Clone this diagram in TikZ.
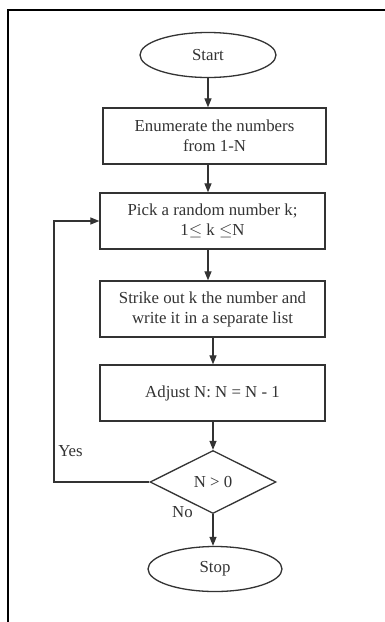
\documentclass[tikz,border=0pt]{standalone}
\usepackage{fontspec}
\setmainfont{Liberation Serif}
\usetikzlibrary{shapes.geometric,arrows.meta}
\definecolor{ln}{HTML}{333333}
\tikzset{
  base/.style={draw=ln, line width=1.3pt, font=\fontsize{16.8}{20}\selectfont, text=ln, align=center, inner sep=0pt},
  term/.style={base, ellipse},
  proc/.style={base, rectangle},
  decision/.style={base, diamond, aspect=2},
  arr/.style={draw=ln, line width=1.2pt, -{Triangle[length=9pt,width=7pt]}},
  lab/.style={font=\fontsize{16.8}{20}\selectfont, text=ln, inner sep=0pt}
}
\begin{document}
\begin{tikzpicture}[x=1pt,y=-1pt]
\useasboundingbox (0,0) rectangle (385,622);
\fill[white] (0,0) rectangle (385,622);
\draw[line width=2pt, black] (8,622) -- (8,10) -- (385,10);

\node[term, minimum width=136, minimum height=45] (start) at (208,55) {Start};
\node[proc, minimum width=223, minimum height=56] (b1) at (214.5,136) {Enumerate the numbers\\from 1-N};
\node[proc, minimum width=225, minimum height=56] (b2) at (212.5,221) {Pick a random number k;\\1$\leq$ k $\leq$N};
\node[proc, minimum width=225, minimum height=56] (b3) at (212.5,309) {Strike out k the number and\\write it in a separate list};
\node[proc, minimum width=225, minimum height=56] (b4) at (212.5,393) {Adjust N: N = N - 1};
\node[decision, minimum width=126, minimum height=63] (dec) at (213,482) {N > 0};
\node[term, minimum width=134, minimum height=45] (stop) at (215,569) {Stop};
\coordinate (lp) at (54,400);

\draw[arr] (start.south) -- (start.south |- b1.north);
\draw[arr] (b1.south -| start.south) -- (b2.north -| start.south);
\draw[arr] (b2.south -| start.south) -- (b3.north -| start.south);
\draw[arr] (b3.south -| dec.north) -- (b4.north -| dec.north);
\draw[arr] (b4.south -| dec.north) -- (dec.north);
\draw[arr] (dec.south) -- (dec.south |- stop.north);
\draw[arr] (dec.west) -- (dec.west -| lp) -- (lp |- b2.west) -- (b2.west);

\node[lab] (yes) at (70.5,451) {Yes};
\node[lab] (no) at (182.5,512) {No};
\end{tikzpicture}
\end{document}
